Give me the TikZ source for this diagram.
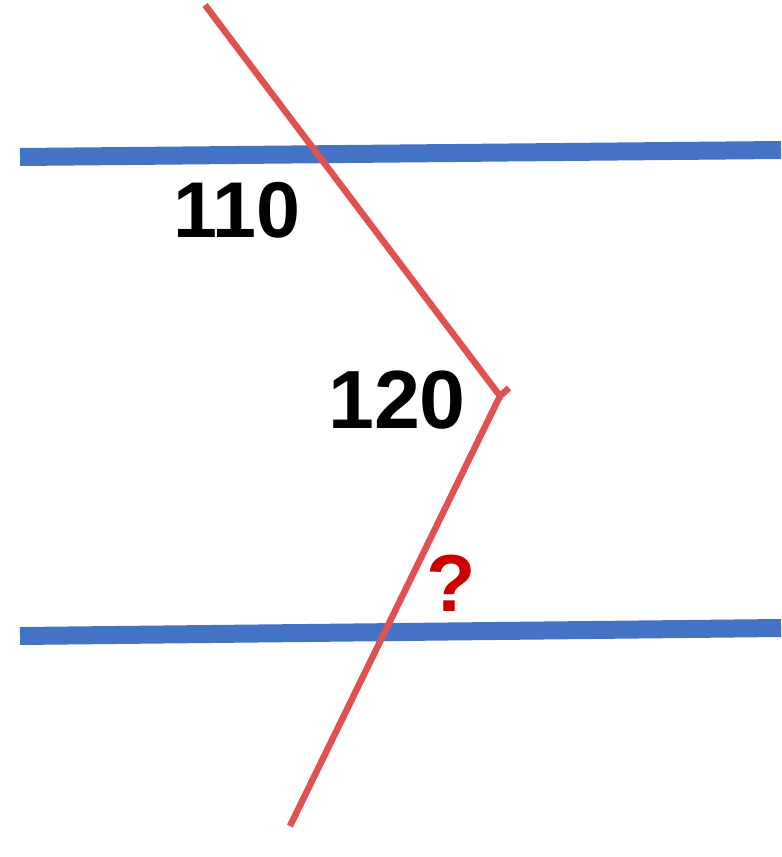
\documentclass[tikz,border=0pt]{standalone}
\usepackage{fontspec}
\setmainfont{Liberation Sans}
\definecolor{parblue}{RGB}{68,114,196}
\definecolor{transred}{RGB}{224,82,82}
\definecolor{askred}{RGB}{204,0,0}
\begin{document}
\begin{tikzpicture}[x=0.02cm,y=-0.02cm, line join=round]
        \def\wpar{0.36cm} \def\wtra{0.13cm}
        \useasboundingbox (0,0) rectangle (781,857);
        % the two parallel lines
        \coordinate (A1) at (20,157); \coordinate (A2) at (781,150);
        \coordinate (B1) at (20,636); \coordinate (B2) at (781,628);
        \draw[parblue,line width=\wpar] (A1)--(A2);
        \draw[parblue,line width=\wpar] (B1)--(B2);
        % the bent transversal
        \coordinate (T) at (205,5); \coordinate (V) at (500,396); \coordinate (E) at (290,826);
        \coordinate (Vt) at (509,388);
        \draw[transred,line width=\wtra] (T)--(V)--(E);
        \draw[transred,line width=\wtra] (V)--(Vt);
        \node[font=\bfseries\fontsize{45}{45}\selectfont] (a110) at (237,210) {110};
        \node[font=\bfseries\fontsize{47}{47}\selectfont] (a120) at (397,400) {120};
        \node[askred,font=\bfseries\fontsize{46}{46}\selectfont] (ask) at (451,583) {?};
    \end{tikzpicture}
\end{document}
